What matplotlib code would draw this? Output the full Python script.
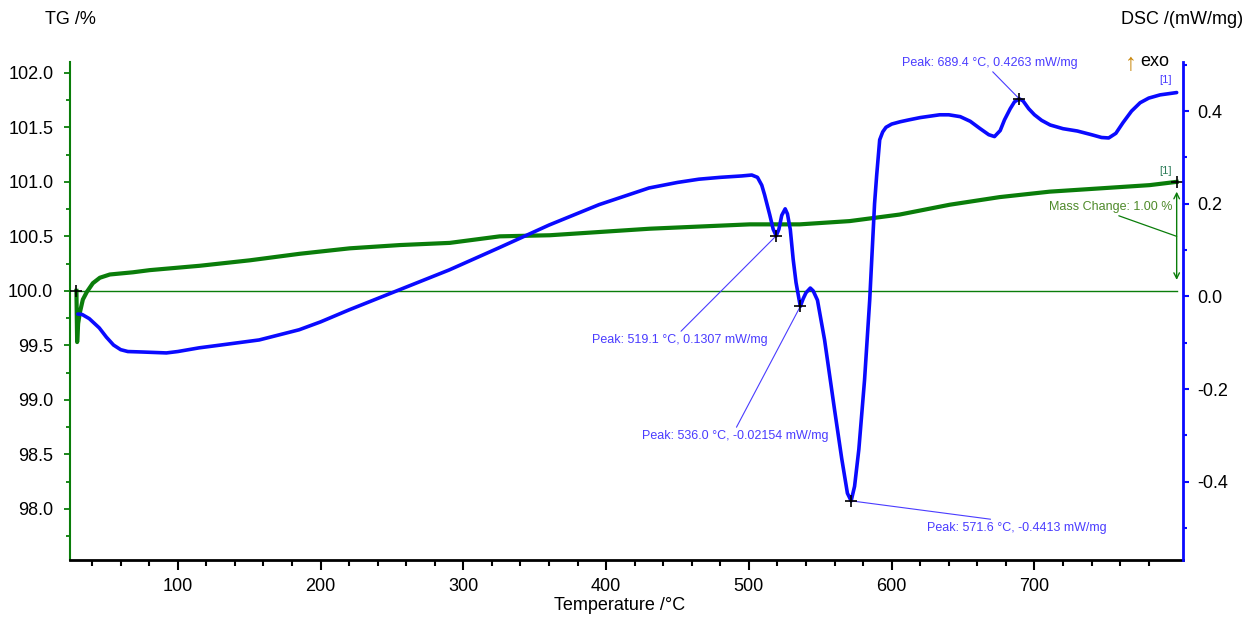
import matplotlib
matplotlib.use("Agg")
import matplotlib.pyplot as plt
from matplotlib.ticker import FixedLocator, MultipleLocator, FormatStrFormatter

plt.rcParams['font.family'] = ['Liberation Sans', 'DejaVu Sans']

# TG curve (mass, %)
tg_temp = [29.0, 29.5, 30.2, 31.4, 33.5, 36.3, 40.5, 45.4, 52.4, 68.5, 80.4, 115.4,
           150.4, 185.4, 220.4, 255.5, 290.5, 325.5, 360.5, 395.5, 430.5, 465.5,
           500.6, 535.6, 570.6, 605.6, 640.6, 675.6, 710.6, 745.7, 780.7, 799.6]
tg_mass = [100.00, 99.53, 99.70, 99.80, 99.92, 99.99, 100.07, 100.12, 100.15, 100.17,
           100.19, 100.23, 100.28, 100.34, 100.39, 100.42, 100.44, 100.50, 100.51,
           100.54, 100.57, 100.59, 100.61, 100.61, 100.64, 100.70, 100.79, 100.86,
           100.91, 100.94, 100.97, 101.00]

# DSC curve (mW/mg)
dsc_temp = [30, 33, 38, 45, 50, 55, 60, 65, 75, 92, 100, 115, 130, 157, 185, 200,
            220, 255, 290, 325, 360, 395, 430, 450, 465, 480, 495, 502, 506, 509,
            511, 514.6, 517, 519.1, 521, 523, 525.4, 527, 529, 531, 533, 536.0,
            538, 540, 543, 545, 548, 553, 560, 565, 569, 571.6, 574, 577, 581,
            584.6, 588, 589.5, 591.6, 593.7, 596, 600, 606, 612, 620, 633.6, 640,
            648, 655, 662, 668, 672, 676, 679, 683, 686, 689.4, 692, 696, 700, 705,
            711, 720, 730, 740, 747, 752, 757, 762, 768, 774, 780, 788, 795, 799.6]
dsc_val = [-0.038, -0.039, -0.048, -0.068, -0.088, -0.105, -0.115, -0.119, -0.120,
           -0.122, -0.119, -0.111, -0.105, -0.094, -0.072, -0.055, -0.029, 0.014,
           0.057, 0.105, 0.154, 0.198, 0.234, 0.246, 0.253, 0.257, 0.260, 0.262,
           0.257, 0.240, 0.219, 0.176, 0.145, 0.1307, 0.145, 0.175, 0.189, 0.178,
           0.144, 0.080, 0.030, -0.02154, -0.005, 0.008, 0.018, 0.012, -0.008,
           -0.094, -0.245, -0.350, -0.425, -0.4413, -0.410, -0.330, -0.180, -0.008,
           0.200, 0.262, 0.338, 0.355, 0.365, 0.372, 0.377, 0.381, 0.386, 0.392,
           0.392, 0.388, 0.378, 0.362, 0.349, 0.345, 0.358, 0.381, 0.405, 0.420,
           0.4263, 0.422, 0.405, 0.392, 0.380, 0.370, 0.362, 0.357, 0.349, 0.343,
           0.342, 0.352, 0.375, 0.400, 0.418, 0.428, 0.435, 0.438, 0.440]

# labelled DSC peaks
peak_temp = [519.1, 536.0, 571.6, 689.4]
peak_val = [0.1307, -0.02154, -0.4413, 0.4263]
mass_change = 1.00

temp_ticks = [100, 200, 300, 400, 500, 600, 700]
temp_minor = list(range(40, 800, 20))

green = '#0a7d0a'
blue = '#0a0aff'
note_blue = '#4a3cff'

fig = plt.figure(figsize=(12.59, 6.21), dpi=100)
ax = fig.add_axes([0.0556, 0.0982, 0.884, 0.802])
ax2 = ax.twinx()

ax.plot(tg_temp, tg_mass, color=green, lw=3.0, solid_joinstyle='round', zorder=3)
ax.plot([tg_temp[0], tg_temp[-1]], [tg_mass[0], tg_mass[0]], color=green, lw=1.0)
ax.plot([tg_temp[0], tg_temp[-1]], [tg_mass[0], tg_mass[-1]], ls='none',
        marker='+', ms=9, mew=1.2, color='black', zorder=4)

ax2.plot(dsc_temp, dsc_val, color=blue, lw=2.6, solid_joinstyle='round',
         solid_capstyle='round', zorder=3)
ax2.plot(peak_temp, peak_val, ls='none', marker='+', ms=9, mew=1.2,
         color='black', zorder=4)

# peak labels: (text centre in figure pixels, leader attach point on text box)
label_pos = [((680, 281), (0.49, 1.0)),
             ((735, 185), (0.5, 1.0)),
             ((1017, 93), (0.47, 1.0)),
             ((990, 558), (0.5, 0.0))]
for t, v, (pos, rel) in zip(peak_temp, peak_val, label_pos):
    ax2.annotate(f'Peak: {t:.1f} °C, {v:.4g} mW/mg', xy=(t, v), xytext=pos,
                 textcoords='figure pixels', ha='center', va='center',
                 fontsize=9, color=note_blue,
                 arrowprops=dict(arrowstyle='-', color=note_blue, lw=0.8,
                                 relpos=rel, shrinkA=0, shrinkB=0))

# mass change marker
t_end = tg_temp[-1]
ax.annotate('', xy=(t_end, tg_mass[0] + 0.1), xytext=(t_end, tg_mass[-1] - 0.09),
            arrowprops=dict(arrowstyle='<->', color=green, lw=1.0,
                            shrinkA=0, shrinkB=0))
ax.annotate(f'Mass Change: {mass_change:.2f} %',
            xy=(t_end, (tg_mass[0] + tg_mass[-1]) / 2), xytext=(1111, 414),
            textcoords='figure pixels', ha='center', va='center',
            fontsize=9, color='#4e8a2a',
            arrowprops=dict(arrowstyle='-', color=green, lw=0.9,
                            relpos=(0.5, 0.0), shrinkA=0, shrinkB=0))

ax2.annotate('[1]', xy=(dsc_temp[-1], dsc_val[-1]), xytext=(-8, 9),
             textcoords='offset points', ha='center', va='center',
             fontsize=8, color=note_blue)
ax.annotate('[1]', xy=(tg_temp[-1], tg_mass[-1]), xytext=(-8, 8),
            textcoords='offset points', ha='center', va='center',
            fontsize=8, color='#2e7d5a')

# axes limits and ticks
ax.set_xlim(24.5, 804)
ax.set_ylim(97.53, 102.1)
ax2.set_ylim(-0.569, 0.506)

ax.xaxis.set_major_locator(FixedLocator(temp_ticks))
ax.xaxis.set_minor_locator(FixedLocator(temp_minor))
ax.yaxis.set_major_locator(MultipleLocator(0.5))
ax.yaxis.set_minor_locator(MultipleLocator(0.25))
ax.yaxis.set_major_formatter(FormatStrFormatter('%.1f'))
ax2.yaxis.set_major_locator(MultipleLocator(0.2))
ax2.yaxis.set_minor_locator(MultipleLocator(0.1))
ax2.yaxis.set_major_formatter(FormatStrFormatter('%.1f'))

for s in ['top', 'right']:
    ax.spines[s].set_visible(False)
for s in ['top', 'left', 'bottom']:
    ax2.spines[s].set_visible(False)
ax.spines['left'].set_color(green)
ax.spines['left'].set_linewidth(1.5)
ax.spines['bottom'].set_color('black')
ax.spines['bottom'].set_linewidth(2.0)
ax2.spines['right'].set_color(blue)
ax2.spines['right'].set_linewidth(2.0)

ax.tick_params(axis='x', which='major', direction='out', length=7, width=1.5,
               colors='black', labelsize=13, pad=6)
ax.tick_params(axis='x', which='minor', direction='out', length=4, width=1.5,
               colors='black')
ax.tick_params(axis='y', which='major', direction='out', length=4, width=1.3,
               color=green, labelcolor='black', labelsize=13, pad=8)
ax.tick_params(axis='y', which='minor', direction='out', length=3, width=1.3,
               color=green)
ax2.tick_params(axis='y', which='major', direction='out', length=4, width=1.5,
                color=blue, labelcolor='black', labelsize=13, pad=6)
ax2.tick_params(axis='y', which='minor', direction='out', length=3, width=1.5,
                color=blue)

ax.set_xlabel('Temperature /°C', fontsize=13, labelpad=2)
ax.xaxis.set_label_coords(0.494, -0.075)

fig.text(45 / 1259, 1 - 19 / 621, 'TG /%', fontsize=13, ha='left', va='center')
fig.text(1243 / 1259, 1 - 20 / 621, 'DSC /(mW/mg)', fontsize=13, ha='right',
         va='center')
fig.text(1131 / 1259, 1 - 64 / 621, '↑', fontsize=17, ha='center', va='center',
         color='#c8860a')
fig.text(1140 / 1259, 1 - 61 / 621, 'exo', fontsize=13, ha='left', va='center')

fig.savefig('out.png', dpi=100)
